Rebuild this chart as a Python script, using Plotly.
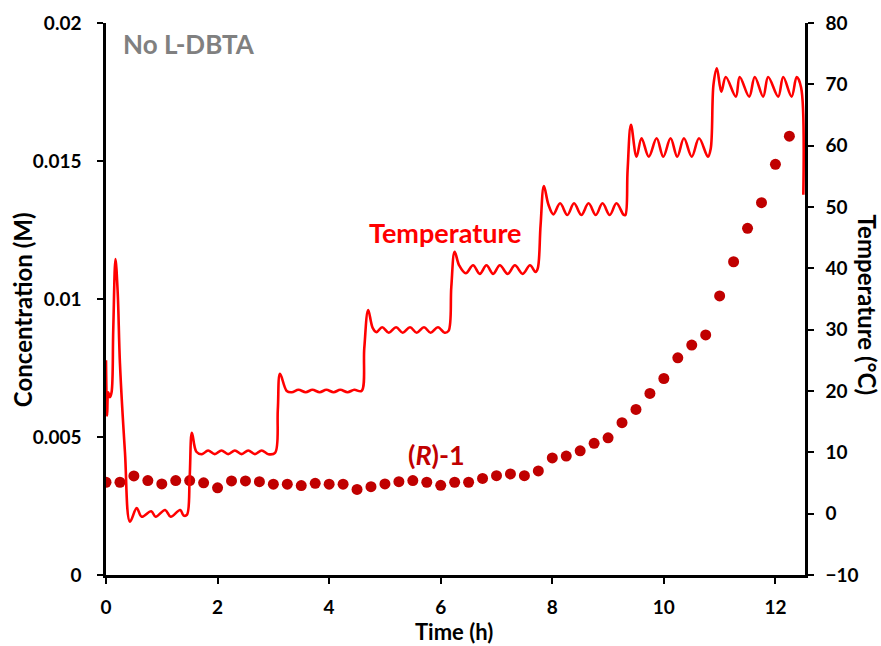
import plotly.graph_objects as go

# ---- data ----
# (R)-1 concentration, sampled every 0.25 h
conc_time = [0.00, 0.25, 0.50, 0.75, 1.00, 1.25, 1.50, 1.75, 2.00, 2.25,
             2.50, 2.75, 3.00, 3.25, 3.50, 3.75, 4.00, 4.25, 4.50, 4.75,
             5.00, 5.25, 5.50, 5.75, 6.00, 6.25, 6.50, 6.75, 7.00, 7.25,
             7.50, 7.75, 8.00, 8.25, 8.50, 8.75, 9.00, 9.25, 9.50, 9.75,
             10.00, 10.25, 10.50, 10.75, 11.00, 11.25, 11.50, 11.75, 12.00, 12.25]
conc_val = [0.00336, 0.00336, 0.00359, 0.00342, 0.00330, 0.00342, 0.00342, 0.00334, 0.00316, 0.00341,
            0.00341, 0.00338, 0.00329, 0.00329, 0.00324, 0.00332, 0.00329, 0.00329, 0.00310, 0.00320,
            0.00330, 0.00338, 0.00342, 0.00336, 0.00325, 0.00336, 0.00336, 0.00350, 0.00360, 0.00366,
            0.00360, 0.00377, 0.00424, 0.00431, 0.00450, 0.00477, 0.00497, 0.00552, 0.00600, 0.00658,
            0.00712, 0.00787, 0.00833, 0.00870, 0.01011, 0.01135, 0.01256, 0.01349, 0.01488, 0.01590]

# Temperature trace (h, °C)
temp_time = [0.00, 0.02, 0.04, 0.07, 0.10, 0.13, 0.17, 0.21, 0.25, 0.34, 0.43,
             0.55, 0.64, 0.81, 0.89, 1.06, 1.16, 1.33, 1.39, 1.45,
             1.50, 1.54, 1.62, 1.72, 1.83, 1.95, 2.07, 2.19, 2.31, 2.43, 2.55, 2.67, 2.79, 2.91, 3.03,
             3.08, 3.12, 3.24, 3.33, 3.45, 3.58, 3.70, 3.83, 3.95, 4.08, 4.20, 4.33, 4.45, 4.58,
             4.63, 4.70, 4.78, 4.85, 4.95, 5.07, 5.20, 5.32, 5.45, 5.57, 5.70, 5.82, 5.95, 6.07, 6.14,
             6.19, 6.25, 6.33, 6.45, 6.58, 6.70, 6.82, 6.94, 7.06, 7.20, 7.33, 7.47, 7.60, 7.70, 7.74,
             7.79, 7.85, 7.93, 8.02, 8.14, 8.27, 8.39, 8.52, 8.65, 8.78, 8.90, 9.03, 9.15, 9.28, 9.31,
             9.35, 9.41, 9.51, 9.60, 9.73, 9.87, 9.99, 10.12, 10.24, 10.36, 10.50, 10.63, 10.79, 10.84,
             10.89, 10.95, 11.03, 11.11, 11.29, 11.36, 11.53, 11.63, 11.78, 11.87, 12.05, 12.14, 12.29,
             12.38, 12.46, 12.50]
temp_val = [25.0, 16.0, 19.8, 19.0, 19.8, 30.0, 41.5, 36.0, 24.5, 10.0, -1.3,
            0.9, -0.5, 0.4, -0.5, 0.6, -0.5, 0.6, -0.3, -0.2,
            6.0, 13.2, 10.1, 9.7, 10.3, 9.7, 10.3, 9.7, 10.3, 9.7, 10.3, 9.7, 10.3, 9.7, 9.9,
            17.0, 22.8, 20.0, 19.8, 20.2, 19.8, 20.2, 19.8, 20.2, 19.8, 20.2, 19.8, 20.2, 20.0,
            27.0, 33.2, 30.3, 29.6, 30.4, 29.5, 30.4, 29.5, 30.4, 29.5, 30.4, 29.5, 30.4, 29.5, 29.8,
            37.0, 42.7, 40.5, 39.2, 40.5, 39.1, 40.5, 39.1, 40.5, 39.1, 40.5, 39.1, 40.5, 39.4, 40.0,
            47.0, 53.4, 50.4, 48.8, 50.6, 48.7, 50.6, 48.7, 50.6, 48.7, 50.6, 48.7, 50.6, 48.7, 48.7,
            56.0, 63.4, 58.2, 61.2, 58.2, 61.2, 58.2, 61.2, 58.2, 61.2, 58.2, 61.2, 58.2, 59.5,
            70.0, 72.6, 68.8, 71.2, 68.0, 71.2, 68.0, 71.2, 68.0, 71.2, 68.0, 71.2, 68.0,
            71.2, 69.5, 52.0]

x_ticks = [0, 2, 4, 6, 8, 10, 12]
y_ticks = [0, 0.005, 0.01, 0.015, 0.02]
y_tick_labels = ["0", "0.005", "0.01", "0.015", "0.02"]
y2_ticks = [-10, 0, 10, 20, 30, 40, 50, 60, 70, 80]

FONT = "Lato"
RED = "#FF0000"
DARKRED = "#C00000"

fig = go.Figure()
fig.add_trace(go.Scatter(x=temp_time, y=temp_val, yaxis="y2", mode="lines",
                         line=dict(color=RED, width=2.6, shape="spline", smoothing=1.0),
                         showlegend=False, hoverinfo="skip"))
fig.add_trace(go.Scatter(x=conc_time, y=conc_val, mode="markers",
                         marker=dict(color=DARKRED, size=11),
                         showlegend=False))

axis_common = dict(showline=True, linecolor="black", linewidth=2.5, ticks="outside",
                   ticklen=6, tickwidth=2, tickcolor="black", showgrid=False, zeroline=False,
                   tickfont=dict(family=FONT, size=19, color="black", weight="bold"))

fig.update_layout(
    width=881, height=646,
    margin=dict(l=106, r=76, t=23, b=71),
    paper_bgcolor="white", plot_bgcolor="white",
    xaxis=dict(range=[0, 12.53], tickvals=x_ticks, ticklabelstandoff=7, **axis_common),
    yaxis=dict(range=[0, 0.02], tickvals=y_ticks, ticktext=y_tick_labels,
               ticklabelstandoff=12, **axis_common),
    yaxis2=dict(range=[-10, 80], tickvals=y2_ticks, overlaying="y", side="right",
                ticklabelstandoff=8, **axis_common),
    annotations=[
        dict(text="No L-DBTA", xref="paper", yref="paper", x=0.0215, y=0.962,
             xanchor="left", yanchor="middle", showarrow=False,
             font=dict(family=FONT, size=26, color="#808080", weight="bold")),
        dict(text="Temperature", xref="x", yref="y2", x=6.09, y=45.9,
             xanchor="center", yanchor="middle", showarrow=False,
             font=dict(family=FONT, size=27, color=RED, weight="bold")),
        dict(text="(<i>R</i>)-1", xref="x", yref="y", x=5.93, y=0.00435,
             xanchor="center", yanchor="middle", showarrow=False,
             font=dict(family=FONT, size=27, color=DARKRED, weight="bold")),
        dict(text="Concentration (M)", xref="paper", yref="paper", x=-0.12, y=0.48,
             xanchor="center", yanchor="middle", textangle=-90, showarrow=False,
             font=dict(family=FONT, size=24, color="black", weight="bold")),
        dict(text="Time (h)", xref="paper", yref="paper", x=0.498, y=-0.103,
             xanchor="center", yanchor="middle", showarrow=False,
             font=dict(family=FONT, size=22, color="black", weight="bold")),
        dict(text="Temperature (°C)", xref="paper", yref="paper", x=1.09, y=0.49,
             xanchor="center", yanchor="middle", textangle=90, showarrow=False,
             font=dict(family=FONT, size=24, color="black", weight="bold")),
    ],
)

fig.write_html("out.html")
